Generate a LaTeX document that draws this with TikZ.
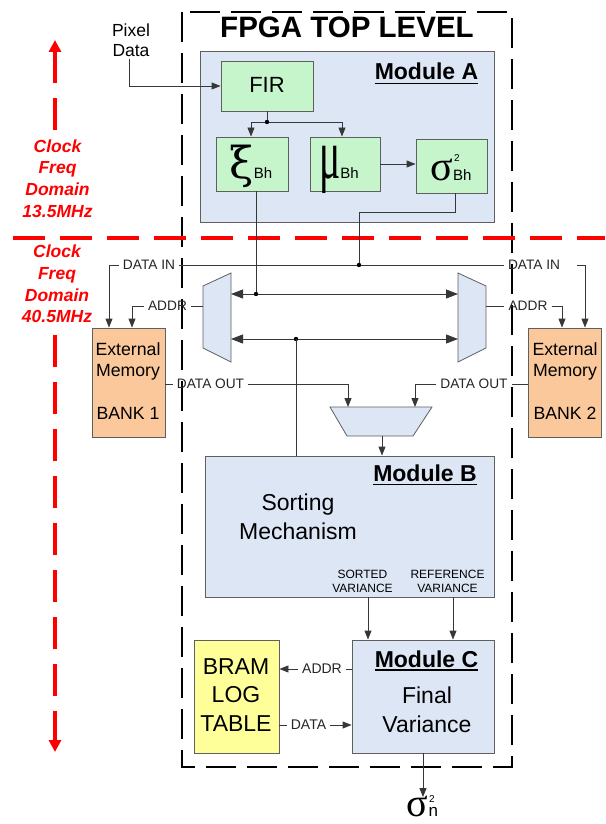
\documentclass[tikz,border=0pt]{standalone}
\usepackage{graphicx}
\usepackage{fontspec}
\setmainfont{Liberation Sans}
\newfontfamily\greekfont{Liberation Serif}
\newfontfamily\greekalt{DejaVu Serif}
\usetikzlibrary{arrows.meta,calc}

\definecolor{modblue}{RGB}{221,230,245}
\definecolor{boxgreen}{RGB}{198,245,204}
\definecolor{memorange}{RGB}{250,200,155}
\definecolor{bramyellow}{RGB}{255,255,153}
\definecolor{edgegray}{RGB}{95,95,95}
\definecolor{wiregray}{RGB}{55,55,55}
\definecolor{clockred}{RGB}{255,0,0}

\newcommand{\fs}[2]{\fontsize{#1}{#2}\selectfont}

\begin{document}
\begin{tikzpicture}[x=1pt,y=-1pt,
  blk/.style={draw=edgegray,line width=0.9pt,inner sep=0pt},
  modbox/.style={blk,fill=modblue},
  grnbox/.style={blk,fill=boxgreen},
  membox/.style={blk,fill=memorange},
  brambox/.style={blk,fill=bramyellow},
  muxshape/.style={draw=edgegray,line width=0.8pt,fill=modblue},
  wire/.style={draw=wiregray,line width=0.9pt},
  arr/.style={wire,-{Triangle[length=9pt,width=7pt]}},
  busarr/.style={wire,{Triangle[length=12pt,width=9pt]}-{Triangle[length=12pt,width=9pt]}},
  lbl/.style={font=\fs{13.7}{16},inner xsep=4pt,inner ysep=1pt,text=black!85},
  lblb/.style={font=\fs{14}{16},inner xsep=4pt,inner ysep=1pt,text=black!85},
  modtitle/.style={font=\bfseries\fs{23}{23},anchor=base,inner sep=0pt},
  bodytxt/.style={font=\fs{23}{29},align=center,inner sep=0pt},
  memtxt/.style={font=\fs{17.7}{21},align=center,inner sep=0pt},
  redtxt/.style={font=\bfseries\itshape\fs{17.5}{21.7},text=clockred,align=center,inner sep=0pt},
  reddash/.style={draw=clockred,line width=4.5pt,dash pattern=on 32pt off 15pt},
  redtip/.style={-{Triangle[length=12pt,width=12pt]}},
  fpga/.style={draw=black,line width=2pt,dash pattern=on 30pt off 11pt},
  junc/.style={fill=black}
]
\useasboundingbox (0,0) rectangle (605,824);
\fill[white] (0,0) rectangle (605,824);

% FPGA top level frame
\draw[fpga] (182,12) rectangle (512,767);
\node[anchor=base,inner sep=0pt,font=\bfseries\fs{29.5}{30}] (title) at (347,38) {FPGA TOP LEVEL};

% clock domain markers
\draw[reddash] (13,238) -- (605,238);
\draw[reddash,redtip] (55,130) -- (55,40);
\draw[reddash,redtip] (55,335) -- (55,752);
\node[redtxt] (clkA) at (57.5,178.5) {Clock\\Freq\\Domain\\13.5MHz};
\node[redtxt] (clkB) at (57,284) {Clock\\Freq\\Domain\\40.5MHz};

% Module A
\node[modbox,minimum width=294pt,minimum height=171pt] (modA) at (347,136.5) {};
\node[modtitle] (modAt) at (426.5,80) {Module A};
\draw[line width=1.8pt] ([yshift=-3.5pt]modAt.base west) -- ([yshift=-3.5pt]modAt.base east);

\node[grnbox,minimum width=92pt,minimum height=50pt] (fir) at (267,86) {};
\node[anchor=base,inner sep=0pt,font=\fs{22}{22}] (firt) at (267,93) {FIR};
\node[grnbox,minimum width=72pt,minimum height=54pt] (xi) at (252,164) {};
\node[grnbox,minimum width=70pt,minimum height=54pt] (mu) at (345,164) {};
\node[grnbox,minimum width=71pt,minimum height=54pt] (sigma) at (451.5,166) {};
\node[anchor=base,inner sep=0pt] (xit) at (251,178) {{\greekalt\fs{44}{44}ξ}{\fs{15}{15}Bh}};
\node[anchor=base,inner sep=0pt] (mut) at (339,178) {\scalebox{0.9}[1.6]{\greekfont\fs{44}{44}μ}{\fs{15}{15}Bh}};
\node[anchor=base,inner sep=0pt] (sigt) at (451,180) {{\greekfont\fs{42}{42}σ}\rlap{\raisebox{19pt}{\fs{10}{10}\hspace{1pt}2}}{\fs{15}{15}Bh}};

\node[font=\fs{17.5}{20},align=center,inner sep=2pt] (pix) at (131,40) {Pixel\\Data};
\draw[arr] ([xshift=-2pt]pix.south) |- (fir.west);

\coordinate (j1) at (267,122);
\draw[wire] (fir.south) -- (j1);
\draw[arr] (j1) -| ([xshift=-1pt]xi.north);
\draw[arr] (j1) -| ([xshift=-3pt]mu.north);
\fill[junc] (j1) circle (2.2pt);
\draw[arr] (mu.east) -- (mu.east -| sigma.west);

% external memories
\node[membox,minimum width=73pt,minimum height=109pt] (memL) at (128.5,382.5) {};
\node[membox,minimum width=73pt,minimum height=109pt] (memR) at (564.5,382.5) {};
\node[memtxt] (memLt) at (128,381.5) {External\\Memory\\[22pt]BANK 1};
\node[memtxt] (memRt) at (565,381.5) {External\\Memory\\[22pt]BANK 2};

% multiplexers
\draw[muxshape] (203,286) -- (231,273) -- (231,362) -- (203,348) -- cycle;
\draw[muxshape] (458,273) -- (486,286) -- (486,348) -- (458,362) -- cycle;
\draw[muxshape] (330,407) -- (432,407) -- (413,436) -- (347,436) -- cycle;
\coordinate (muxLw) at (203,306);
\coordinate (muxRe) at (486,306);
\coordinate (muxLa) at (231,294);
\coordinate (muxRa) at (458,294);
\coordinate (muxLb) at (231,339);
\coordinate (muxRb) at (458,339);
\coordinate (bmL) at (348,407);
\coordinate (bmR) at (415,407);
\coordinate (bmO) at (382,436);

% Module B and C, BRAM
\node[modbox,minimum width=289pt,minimum height=141pt] (modB) at (349.5,526.5) {};
\node[modtitle] (modBt) at (425,481.5) {Module B};
\draw[line width=1.8pt] ([yshift=-3pt]modBt.base west) -- ([yshift=-3pt]modBt.base east);
\node[bodytxt] (sortt) at (298,516.5) {Sorting\\Mechanism};
\node[font=\fs{12}{14},align=center,inner sep=0pt] (sortv) at (362.5,581) {SORTED\\VARIANCE};
\node[font=\fs{12}{14},align=center,inner sep=0pt] (refv) at (447.5,581) {REFERENCE\\VARIANCE};

\node[modbox,minimum width=142pt,minimum height=113pt] (modC) at (423,696.5) {};
\node[modtitle] (modCt) at (426.5,667) {Module C};
\draw[line width=1.8pt] ([yshift=-3pt]modCt.base west) -- ([yshift=-3pt]modCt.base east);
\node[bodytxt] (finalt) at (427,709.5) {Final\\Variance};

\node[brambox,minimum width=85pt,minimum height=113pt] (bram) at (236.5,696.5) {};
\node[font=\fs{23}{28.5},align=center,inner sep=0pt] (bramt) at (236,695) {BRAM\\LOG\\TABLE};

% taps from Module A
\coordinate (d1) at (256,294);
\coordinate (d2) at (359,265);
\coordinate (sbend) at (359,212);
\coordinate (d3) at (296,339);
\draw[wire] ([xshift=4pt]xi.south) -- (d1);
\draw[wire] ([xshift=3.5pt]sigma.south) |- (sbend) -- (d2);

% DATA IN
\node[lbl] (dinL) at (149,265) {DATA IN};
\node[lbl] (dinR) at (534,265) {DATA IN};
\coordinate (dinRe) at (577,265);
\draw[wire] (dinL.east) -- (dinR.west);
\draw[arr] (dinL.west) -| ([xshift=-19.5pt]memL.north);
\draw[arr] (dinRe) -| ([xshift=20.5pt]memR.north);
\fill[junc] (d2) circle (2.2pt);

% ADDR
\node[lbl] (adrL) at (167.5,306) {ADDR};
\node[lbl] (adrR) at (528,306) {ADDR};
\draw[wire] (muxLw) -- (adrL.east);
\draw[arr] (adrL.west) -| ([xshift=3.5pt]memL.north);
\draw[wire] (muxRe) -- (adrR.west);
\draw[arr] (adrR.east) -| ([xshift=-2.5pt]memR.north);

% buses
\draw[busarr] (muxLa) -- (muxRa);
\draw[busarr] (muxLb) -- (muxRb);
\fill[junc] (d1) circle (2.2pt);
\fill[junc] (d3) circle (2.2pt);
\draw[wire] (d3) -- (d3 |- modB.north);

% DATA OUT
\node[lbl] (doutL) at (210.5,384) {DATA OUT};
\node[lbl] (doutR) at (474,384) {DATA OUT};
\draw[wire] (memL.east |- doutL.west) -- (doutL.west);
\draw[arr] (doutL.east) -| (bmL);
\draw[wire] (memR.west |- doutR.east) -- (doutR.east);
\draw[arr] (doutR.west) -| (bmR);
\draw[arr] (bmO) -- (bmO |- modB.north);

% Module B -> Module C
\draw[arr] ([xshift=18.5pt]modB.south) -- ([xshift=18.5pt]modB.south |- modC.north);
\draw[arr] ([xshift=103.5pt]modB.south) -- ([xshift=103.5pt]modB.south |- modC.north);

% BRAM links
\node[lblb] (adrB) at (322,669) {ADDR};
\node[lblb] (datB) at (308.5,725) {DATA};
\draw[wire] (modC.west |- adrB.east) -- (adrB.east);
\draw[arr] (adrB.west) -- (adrB.west -| bram.east);
\draw[wire] (bram.east |- datB.west) -- (datB.west);
\draw[arr] (datB.east) -- (datB.east -| modC.west);

% output
\coordinate (outEnd) at (423,797);
\draw[arr] (modC.south) -- (outEnd);
\node[anchor=base,inner sep=0pt] (sign) at (422.5,816) {{\greekfont\fs{40}{40}σ}{\fs{17}{17}\rlap{\raisebox{14pt}{\fs{10}{10}\hspace{0.5pt}2}}n}};
\end{tikzpicture}
\end{document}
